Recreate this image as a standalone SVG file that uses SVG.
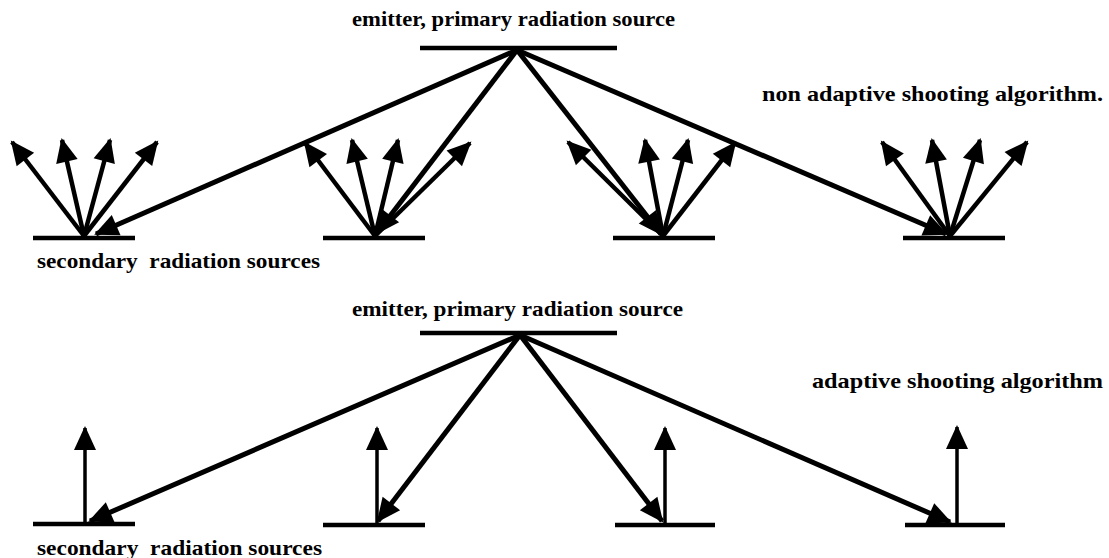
<svg xmlns="http://www.w3.org/2000/svg" width="1109" height="558" viewBox="0 0 1109 558">
<defs>
<marker id="ah" markerUnits="userSpaceOnUse" markerWidth="30" markerHeight="26" refX="22" refY="11" orient="auto" overflow="visible">
<path d="M0,0 L24,11 L0,22 z" fill="#000"/>
</marker>
<marker id="ah2" markerUnits="userSpaceOnUse" markerWidth="30" markerHeight="26" refX="22" refY="11" orient="auto" overflow="visible">
<path d="M0,0 L24,11 L0,22 z" fill="#000"/>
</marker>
</defs>
<style>
.t{font-family:"Liberation Serif","Times New Roman",serif;font-weight:bold;font-size:22px;fill:#000;white-space:pre}
.base{stroke:#000;stroke-width:4.5;fill:none}
.ray{stroke:#000;stroke-width:5;fill:none;marker-end:url(#ah2)}
.fan{stroke:#000;stroke-width:4.5;fill:none;marker-end:url(#ah)}
.up{stroke:#000;stroke-width:3.5;fill:none;marker-end:url(#ah)}
</style>
<rect width="1109" height="558" fill="#fff"/>

<!-- top panel -->
<g id="top-emitter">
<text class="t" x="352" y="26" textLength="323" lengthAdjust="spacingAndGlyphs">emitter, primary radiation source</text>
<line class="base" x1="420" y1="48" x2="617" y2="48"/>
</g>
<text id="top-title" class="t" x="762" y="101" textLength="341" lengthAdjust="spacingAndGlyphs">non adaptive shooting algorithm.</text>
<g id="top-sec1">
<line class="base" x1="33" y1="238" x2="135" y2="238"/>
<line class="fan" x1="84" y1="236" x2="12" y2="142"/>
<line class="fan" x1="84" y1="236" x2="62" y2="140"/>
<line class="fan" x1="84" y1="236" x2="110" y2="140"/>
<line class="fan" x1="84" y1="236" x2="157" y2="142"/>
<text class="t" x="37" y="268" textLength="283" lengthAdjust="spacingAndGlyphs" xml:space="preserve">secondary  radiation sources</text>
</g>
<g id="top-sec2">
<line class="base" x1="323" y1="238" x2="425" y2="238"/>
<line class="fan" x1="375" y1="236" x2="305" y2="143"/>
<line class="fan" x1="375" y1="236" x2="352" y2="140"/>
<line class="fan" x1="375" y1="236" x2="398" y2="140"/>
<line class="fan" x1="375" y1="236" x2="470" y2="143"/>
</g>
<g id="top-sec3">
<line class="base" x1="613" y1="238" x2="715" y2="238"/>
<line class="fan" x1="663" y1="236" x2="568" y2="142"/>
<line class="fan" x1="663" y1="236" x2="645" y2="140"/>
<line class="fan" x1="663" y1="236" x2="688" y2="140"/>
<line class="fan" x1="663" y1="236" x2="735" y2="143"/>
</g>
<g id="top-sec4">
<line class="base" x1="903" y1="238" x2="1005" y2="238"/>
<line class="fan" x1="950" y1="236" x2="882" y2="142"/>
<line class="fan" x1="950" y1="236" x2="932" y2="140"/>
<line class="fan" x1="950" y1="236" x2="980" y2="140"/>
<line class="fan" x1="950" y1="236" x2="1027" y2="142"/>
</g>
<g id="top-rays">
<line class="ray" x1="517" y1="50" x2="96" y2="234"/>
<line class="ray" x1="517" y1="50" x2="377" y2="233"/>
<line class="ray" x1="517" y1="50" x2="661" y2="234"/>
<line class="ray" x1="517" y1="50" x2="946" y2="234"/>
</g>

<!-- bottom panel -->
<g id="bot-emitter">
<text class="t" x="352" y="316" textLength="331" lengthAdjust="spacingAndGlyphs">emitter, primary radiation source</text>
<line class="base" x1="420" y1="333" x2="617" y2="333"/>
</g>
<text id="bot-title" class="t" x="812" y="388" textLength="291" lengthAdjust="spacingAndGlyphs">adaptive shooting algorithm</text>
<g id="bot-sec1">
<line class="base" x1="33" y1="524" x2="135" y2="524"/>
<line class="up" x1="85" y1="523" x2="85" y2="428"/>
<text class="t" x="37" y="555" textLength="285" lengthAdjust="spacingAndGlyphs" xml:space="preserve">secondary  radiation sources</text>
</g>
<g id="bot-sec2">
<line class="base" x1="323" y1="525" x2="425" y2="525"/>
<line class="up" x1="377" y1="523" x2="377" y2="428"/>
</g>
<g id="bot-sec3">
<line class="base" x1="615" y1="525" x2="715" y2="525"/>
<line class="up" x1="665" y1="523" x2="665" y2="428"/>
</g>
<g id="bot-sec4">
<line class="base" x1="905" y1="525" x2="1005" y2="525"/>
<line class="up" x1="957" y1="523" x2="957" y2="427"/>
</g>
<g id="bot-rays">
<line class="ray" x1="520" y1="335" x2="90" y2="521"/>
<line class="ray" x1="520" y1="335" x2="378" y2="521"/>
<line class="ray" x1="520" y1="335" x2="662" y2="521"/>
<line class="ray" x1="520" y1="335" x2="950" y2="522"/>
</g>
</svg>
